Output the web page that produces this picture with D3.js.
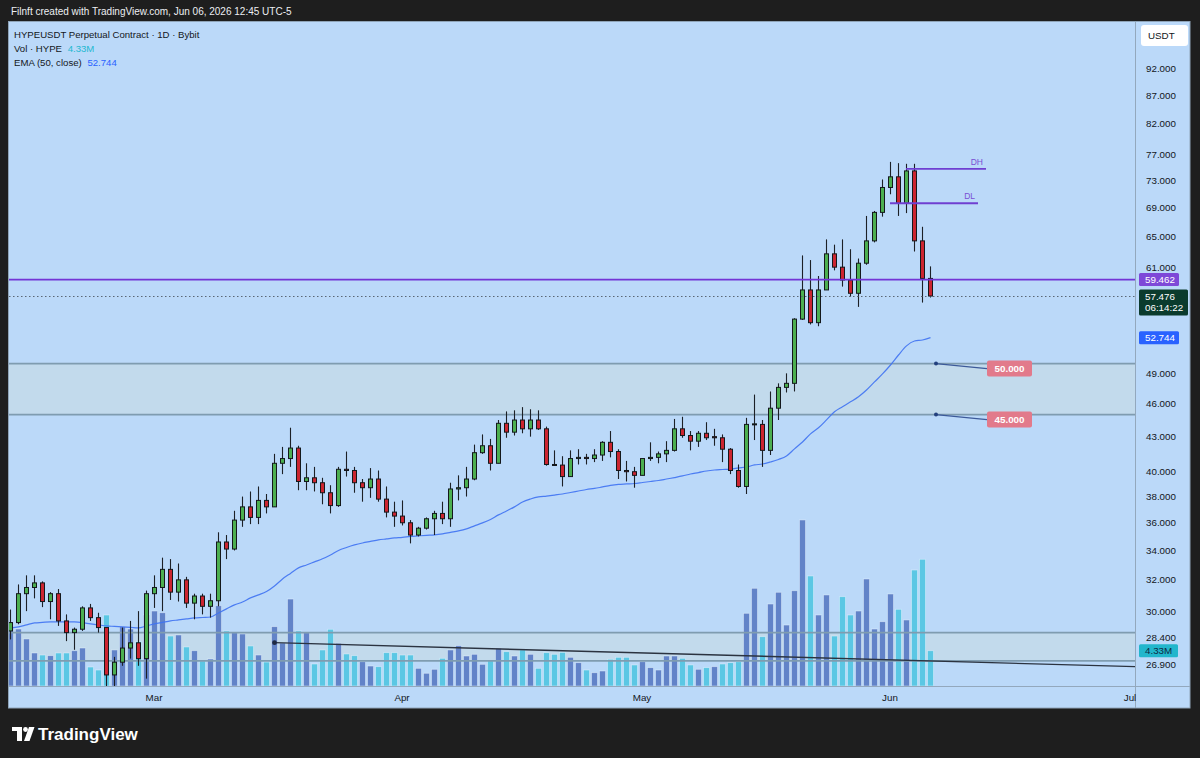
<!DOCTYPE html>
<html><head><meta charset="utf-8">
<script src="https://cdn.jsdelivr.net/npm/d3@7"></script>
<style>body{margin:0;background:#1e1e1e;} svg{display:block;font-family:"Liberation Sans",Arial,sans-serif;}</style>
</head><body><svg id="c" width="1200" height="758"></svg>
<script>
// ---------- DATA (daily candles, HYPEUSDT, from 2026-02-11) ----------
const firstDay = "2026-02-11";
const opens = [28.8,29.3,31.1,31.5,31.8,30.6,31.1,29.4,28.7,28.9,
 30.2,29.6,29.0,26.3,27.0,27.8,28.1,27.2,31.1,31.5,
 32.7,31.2,32.0,30.5,30.95,30.3,30.65,34.6,34.1,36.2,
 37.2,36.4,37.7,37.2,40.7,41.1,42.0,39.2,39.5,39.1,
 38.3,37.3,40.2,40.1,39.1,38.7,39.4,37.8,36.8,36.5,
 36.0,35.1,35.6,36.3,36.7,36.3,38.6,38.7,39.4,41.6,
 42.2,40.7,44.2,43.4,44.5,43.7,44.5,43.7,40.6,40.55,
 39.6,41.1,41.2,41.1,41.4,42.5,41.7,40.1,40.0,39.7,
 41.1,41.2,41.5,41.8,43.7,43.1,42.6,43.3,43.0,42.9,
 41.9,40.1,38.8,44.1,44.1,41.8,45.6,47.6,48.0,54.8,
 58.2,54.4,58.2,62.7,61.0,59.4,57.8,61.5,64.4,68.3,
 71.9,73.5,69.6,74.4,64.4,59.6];
const highs = [30.1,31.7,32.3,32.3,31.9,31.2,31.4,29.8,29.0,30.3,
 30.45,29.9,29.0,27.3,29.0,29.4,30.0,31.3,32.3,33.5,
 33.4,33.1,32.2,31.1,31.1,31.1,35.3,35.1,36.9,38.0,
 38.4,38.8,38.2,41.5,42.1,43.8,42.2,40.7,40.4,39.5,
 38.9,40.4,41.7,40.4,39.4,40.3,40.1,38.8,37.6,37.7,
 36.2,35.7,36.4,36.9,37.6,39.1,39.7,40.4,42.3,43.2,
 42.8,44.5,45.3,45.4,45.7,45.5,45.4,43.9,41.8,41.3,
 41.8,41.9,41.5,41.9,42.6,43.5,41.9,40.9,40.4,41.1,
 42.5,41.7,42.6,44.6,44.8,43.5,43.5,44.3,43.7,43.2,
 42.0,40.6,44.7,46.9,44.5,47.2,48.0,49.0,54.9,62.5,
 61.9,59.9,64.6,63.9,64.6,63.3,62.1,67.8,68.5,73.1,
 75.8,75.6,75.5,75.5,66.3,61.1];
const lows = [28.3,29.2,30.0,30.8,30.25,29.5,29.1,28.2,27.7,28.8,
 29.4,28.7,25.7,25.7,26.8,27.2,26.8,26.1,30.2,30.0,
 30.7,30.6,30.2,29.5,29.8,29.6,30.3,33.4,34.0,35.7,
 35.9,35.9,36.7,37.2,39.8,40.4,38.5,38.5,38.4,37.4,
 36.7,37.2,39.6,38.3,37.6,37.9,37.6,36.4,35.7,35.8,
 34.5,35.0,35.5,35.1,35.9,35.7,37.7,38.0,39.3,41.5,
 40.1,40.7,42.9,43.1,43.3,43.0,43.6,40.5,40.5,38.8,
 39.6,40.6,40.6,40.8,40.9,41.2,39.4,39.2,38.7,39.7,
 40.9,40.7,40.8,41.7,42.9,41.8,42.1,42.7,42.2,40.8,
 39.8,38.7,38.2,42.7,40.4,41.4,44.5,47.1,47.2,54.7,
 54.2,54.0,58.2,60.6,58.6,57.4,56.2,61.3,64.2,67.7,
 70.9,67.8,68.2,63.0,56.7,57.3];
const closes = [29.3,31.1,31.5,31.8,30.6,31.1,29.4,28.7,28.9,30.2,
 29.6,29.0,26.3,27.0,27.8,28.1,27.2,31.1,31.5,32.7,
 31.2,32.0,30.5,30.95,30.3,30.65,34.6,34.1,36.2,37.2,
 36.4,37.7,37.2,40.7,41.1,42.0,39.2,39.5,39.1,38.3,
 37.3,40.2,40.1,39.1,38.7,39.4,37.8,36.8,36.5,36.0,
 35.1,35.6,36.3,36.7,36.3,38.6,38.7,39.4,41.6,42.2,
 40.7,44.2,43.4,44.5,43.7,44.5,43.7,40.6,40.55,39.6,
 41.1,41.2,41.1,41.4,42.5,41.7,40.1,40.0,39.7,41.1,
 41.2,41.5,41.8,43.7,43.1,42.6,43.3,42.9,42.9,41.9,
 40.1,38.8,44.1,44.15,41.8,45.6,47.6,48.0,54.8,58.2,
 54.4,58.2,62.7,61.0,59.4,57.8,61.5,64.4,68.3,71.9,
 73.5,69.6,74.4,64.4,59.6,57.476];
const volumesM = [7.28,6.99,5.77,4.05,3.80,3.72,4.05,4.05,4.33,4.66,
 2.33,1.96,8.71,4.42,7.28,6.99,5.44,8.71,9.20,8.99,
 6.13,6.26,4.79,4.33,3.07,3.31,9.85,6.75,6.54,6.38,
 4.91,3.80,2.94,7.28,5.28,10.67,6.75,6.54,2.70,4.42,
 6.96,5.24,3.93,3.72,2.98,2.45,2.37,4.09,4.09,3.80,
 3.80,2.17,1.56,2.05,3.40,4.42,4.94,3.68,3.89,2.66,
 3.10,4.63,4.21,3.68,4.42,3.89,2.17,4.09,3.89,4.13,
 3.52,2.86,1.96,1.63,1.84,3.28,3.52,3.52,2.58,2.98,
 2.25,1.96,3.68,3.68,3.40,2.58,2.05,2.25,2.37,2.70,
 2.86,2.98,8.92,11.99,6.05,10.06,11.50,7.48,11.69,20.37,
 13.50,8.71,11.17,6.13,10.96,8.71,9.20,13.13,6.99,7.89,
 11.29,9.41,8.10,14.23,15.55,4.33];
// 1 = light (cyan) volume bar, 0 = dark blue bar
const volLight = [0,0,0,0,1,0,1,1,0,0, 1,1,1,0,0,0,1,0,0,0,
 1,0,1,0,1,0,0,1,0,0, 1,0,1,0,0,0,1,0,1,1,
 1,0,1,1,0,0,1,1,1,1, 1,0,0,0,1,0,0,0,0,0,
 1,0,1,0,1,0,1,1,1,1, 0,0,1,0,0,1,1,1,1,0,
 0,0,0,0,1,1,0,1,0,1, 1,1,0,0,1,0,0,0,0,0,
 1,0,0,1,1,1,0,0,0,0, 0,1,0,1,1,1];
const ema50 = [28.98,29.04,29.16,29.28,29.31,29.34,29.34,29.34,29.34,29.30,
 29.22,29.16,29.10,29.07,29.04,29.01,28.98,29.10,29.22,29.31,
 29.40,29.46,29.52,29.58,29.61,29.64,29.89,30.14,30.39,30.57,
 30.83,31.02,31.24,31.60,32.06,32.43,32.80,33.00,33.21,33.42,
 33.69,34.00,34.21,34.39,34.53,34.64,34.75,34.82,34.89,34.93,
 35.00,35.04,35.08,35.11,35.18,35.29,35.40,35.55,35.77,35.99,
 36.25,36.59,36.89,37.20,37.58,37.81,37.97,38.04,38.12,38.20,
 38.32,38.44,38.56,38.64,38.76,38.88,38.96,39.00,39.04,39.12,
 39.20,39.28,39.40,39.52,39.65,39.81,39.93,40.06,40.14,40.18,
 40.22,40.31,40.39,40.56,40.64,40.81,41.02,41.32,41.93,42.53,
 43.25,43.79,44.51,45.26,45.73,46.20,46.69,47.34,48.14,48.94,
 49.85,50.89,51.86,52.38,52.49,52.744];

const priceTicks = [92,87,82,77,73,69,65,61,49,46,43,40,38,36,34,32,30,28.4,26.9];
const monthLabels = ["Mar","Apr","May","Jun","Jul"];
const monthDates = ["2026-03-01","2026-04-01","2026-05-01","2026-06-01","2026-07-01"];

const levelLine = 59.462;          // purple horizontal line
const lastPrice = 57.476, countdown = "06:14:22";
const emaLast = 52.744, volLast = 4.33;
const zoneUpper = [50, 45];         // rectangle zone (price top, bottom)
const zoneLower = [28.70, 27.07];
const trendAnchors = [{d:"2026-03-16",p:28.11},{d:"2026-06-06",p:27.07}];
const dhLevel = {label:"DH", p:74.7, from:"2026-06-03", to:"2026-06-13"};
const dlLevel = {label:"DL", p:69.6, from:"2026-06-01", to:"2026-06-12"};
const calloutPrices = [50, 45];
const calloutLabels = ["50.000","45.000"];
const calloutDate = "2026-06-06T18:00:00Z";

// ---------- LAYOUT ----------
const W = 1200, H = 758;
const P = {l:9, r:1135, t:22, b:686, right:1190, bottom:708};
const parse = s => new Date(s.length === 10 ? s + "T00:00:00Z" : s);
const day0 = parse(firstDay);
const dates = closes.map((_, i) => d3.utcDay.offset(day0, i));

const x = d3.scaleUtc().domain([day0, parse("2026-07-01")]).range([10, 1130]);
const y = d3.scaleLog().domain([26.9, 92]).range([664, 68]);
const yv = d3.scaleLinear().domain([0, 25]).range([P.b, P.b - 25 * 8.15]);

const svg = d3.select("#c");
svg.append("rect").attr("width", W).attr("height", H).attr("fill", "#1e1e1e");
svg.append("text").attr("x", 11).attr("y", 15).attr("fill", "#eceef2")
  .attr("font-size", 10)
  .text("Filnft created with TradingView.com, Jun 06, 2026 12:45 UTC-5");

svg.append("rect").attr("x", 8.5).attr("y", 21.5).attr("width", P.right - 8.5).attr("height", P.bottom - 21.5)
  .attr("fill", "#bbd9f9").attr("stroke", "#8fa4b8");

svg.append("defs").append("clipPath").attr("id", "clip").append("rect")
  .attr("x", P.l).attr("y", P.t).attr("width", P.r - P.l).attr("height", P.b - P.t);
const g = svg.append("g").attr("clip-path", "url(#clip)");

// zones fill
function zone(z) {
  g.append("rect").attr("x", P.l).attr("width", P.r - P.l)
   .attr("y", y(z[0])).attr("height", y(z[1]) - y(z[0]))
   .attr("fill", "#c3d9ea").attr("opacity", 0.85);
}
zone(zoneUpper); zone(zoneLower);

// volume
const idx = d3.range(closes.length);
g.selectAll("rect.vol").data(idx).join("rect").attr("class", "vol")
  .attr("x", i => x(dates[i]) - 2.5).attr("width", 6)
  .attr("y", i => yv(volumesM[i])).attr("height", i => P.b - yv(volumesM[i]))
  .attr("fill", i => volLight[i] ? "#5bc7e4" : "#6283c8")
  .attr("stroke", "rgba(235,245,255,0.55)").attr("stroke-width", 0.8);

// zone borders
function zoneBorder(z) {
  z.forEach(p => g.append("line").attr("x1", P.l).attr("x2", P.r)
    .attr("y1", y(p)).attr("y2", y(p)).attr("stroke", "#7f9cb0").attr("stroke-width", 1.8));
}
zoneBorder(zoneUpper); zoneBorder(zoneLower);

// trend line (extended right)
const ta = trendAnchors.map(a => [x(parse(a.d)) + 0.5, y(a.p)]);
const slope = (ta[1][1] - ta[0][1]) / (ta[1][0] - ta[0][0]);
g.append("line").attr("x1", ta[0][0]).attr("y1", ta[0][1])
  .attr("x2", P.r).attr("y2", ta[0][1] + slope * (P.r - ta[0][0]))
  .attr("stroke", "#2b3340").attr("stroke-width", 1.4);
g.append("circle").attr("cx", ta[0][0]).attr("cy", ta[0][1]).attr("r", 2.4).attr("fill", "#1f2a44");

// EMA
g.append("path").datum(idx)
  .attr("d", d3.line().x(i => x(dates[i]) + 0.5).y(i => y(ema50[i])).curve(d3.curveMonotoneX))
  .attr("fill", "none").attr("stroke", "#3f72f2").attr("stroke-width", 1.2).attr("opacity", 0.9);

// candles
g.selectAll("line.wick").data(idx).join("line")
  .attr("x1", i => x(dates[i]) + 0.5).attr("x2", i => x(dates[i]) + 0.5)
  .attr("y1", i => y(highs[i])).attr("y2", i => y(lows[i]))
  .attr("stroke", "#1c2026").attr("stroke-width", 1.1);
g.selectAll("rect.body").data(idx).join("rect")
  .attr("x", i => x(dates[i]) - 1.5).attr("width", 4)
  .attr("y", i => y(Math.max(opens[i], closes[i])))
  .attr("height", i => Math.max(1, Math.abs(y(opens[i]) - y(closes[i]))))
  .attr("fill", i => closes[i] >= opens[i] ? "#4caf50" : "#cc2530")
  .attr("stroke", "#14181c").attr("stroke-width", 1);

// purple level + current price dotted
g.append("line").attr("x1", P.l).attr("x2", P.r).attr("y1", y(levelLine)).attr("y2", y(levelLine))
  .attr("stroke", "#7335d6").attr("stroke-width", 1.8);
g.append("line").attr("x1", P.l).attr("x2", P.r).attr("y1", Math.round(y(lastPrice)) + 0.5).attr("y2", Math.round(y(lastPrice)) + 0.5)
  .attr("stroke", "#5b6774").attr("stroke-width", 1).attr("stroke-dasharray", "1.5,2.5");

// DH / DL
[dhLevel, dlLevel].forEach(L => {
  const x1 = x(parse(L.from)), x2 = x(parse(L.to)), yy = y(L.p);
  g.append("line").attr("x1", x1).attr("x2", x2).attr("y1", yy).attr("y2", yy)
    .attr("stroke", "#6f3fd1").attr("stroke-width", 1.8);
  g.append("text").attr("x", x2 - 3).attr("y", yy - 4).attr("text-anchor", "end")
    .attr("font-size", 8.5).attr("fill", "#7a4fd4").text(L.label);
});

// callouts
calloutPrices.forEach((p, k) => {
  const ax = x(parse(calloutDate)), ay = y(p);
  const bx = ax + 51, by = ay + 5;
  g.append("line").attr("x1", ax).attr("y1", ay).attr("x2", bx).attr("y2", by)
    .attr("stroke", "#3c5a9a").attr("stroke-width", 1.2);
  g.append("circle").attr("cx", ax).attr("cy", ay).attr("r", 2).attr("fill", "#23407e");
  g.append("rect").attr("x", bx).attr("y", by - 8).attr("width", 45).attr("height", 16).attr("rx", 2)
    .attr("fill", "#e27a8b");
  g.append("text").attr("x", bx + 22.5).attr("y", by + 3.5).attr("text-anchor", "middle")
    .attr("font-size", 9.8).attr("font-weight", "bold").attr("fill", "#ffffff").text(calloutLabels[k]);
});

// legend
const leg = svg.append("g").attr("font-size", 9.6).attr("fill", "#131722");
leg.append("text").attr("x", 14).attr("y", 38).text("HYPEUSDT Perpetual Contract · 1D · Bybit");
const l2 = leg.append("text").attr("x", 14).attr("y", 52);
l2.append("tspan").text("Vol · HYPE ");
l2.append("tspan").attr("fill", "#1fb8d0").attr("dx", 3).text(d3.format(".2f")(volLast) + "M");
const l3 = leg.append("text").attr("x", 14).attr("y", 66);
l3.append("tspan").text("EMA (50, close) ");
l3.append("tspan").attr("fill", "#2962ff").attr("dx", 3).text(d3.format(".3f")(emaLast));

// axes separators
svg.append("line").attr("x1", P.r + 0.5).attr("x2", P.r + 0.5).attr("y1", P.t).attr("y2", P.bottom)
  .attr("stroke", "#93a8bd");
svg.append("line").attr("x1", P.l).attr("x2", P.right).attr("y1", P.b + 0.5).attr("y2", P.b + 0.5)
  .attr("stroke", "#93a8bd");

// price axis
const ax = svg.append("g").attr("font-size", 9.8).attr("fill", "#131722");
ax.selectAll("text.t").data(priceTicks).join("text")
  .attr("x", 1146).attr("y", d => y(d) + 3.5).text(d => d3.format(".3f")(d));
svg.append("rect").attr("x", 1141).attr("y", 25).attr("width", 47).attr("height", 21).attr("rx", 3)
  .attr("fill", "#ffffff");
svg.append("text").attr("x", 1148).attr("y", 39).attr("font-size", 9.8).attr("fill", "#131722").text("USDT");

function tag(yc, txt, fill, tf, w) {
  svg.append("rect").attr("x", 1139).attr("y", yc - 6.5).attr("width", w).attr("height", 13).attr("rx", 1.5).attr("fill", fill);
  svg.append("text").attr("x", 1145).attr("y", yc + 3.5).attr("font-size", 9.8).attr("fill", tf).text(txt);
}
tag(y(levelLine), d3.format(".3f")(levelLine), "#7e48d8", "#ffffff", 40);
{
  const yc = y(lastPrice);
  svg.append("rect").attr("x", 1139).attr("y", yc - 6.5).attr("width", 49).attr("height", 26).attr("rx", 1.5).attr("fill", "#0b3b2d");
  svg.append("text").attr("x", 1145).attr("y", yc + 3.5).attr("font-size", 9.8).attr("fill", "#fff").text(d3.format(".3f")(lastPrice));
  svg.append("text").attr("x", 1145).attr("y", yc + 15).attr("font-size", 9.8).attr("fill", "#fff").text(countdown);
}
tag(y(emaLast), d3.format(".3f")(emaLast), "#2962ff", "#ffffff", 40);
tag(yv(volLast), d3.format(".2f")(volLast) + "M", "#22b6cc", "#0f2a44", 39);

// time axis
svg.selectAll("text.m").data(monthLabels).join("text")
  .attr("x", (d, i) => x(parse(monthDates[i]))).attr("y", 701).attr("text-anchor", "middle")
  .attr("font-size", 9.8).attr("fill", "#131722").text(d => d);

// TradingView logo
const lg = svg.append("g").attr("fill", "#ffffff");
lg.append("path").attr("d", "M12,727 H22 V741 H17 V731 H12 Z");
lg.append("circle").attr("cx", 25.5).attr("cy", 729.5).attr("r", 2.4);
lg.append("path").attr("d", "M29,727 H34.5 L29.5,741 H24 Z");
lg.append("text").attr("x", 38).attr("y", 740).attr("font-size", 17).attr("font-weight", "bold").text("TradingView");
</script></body></html>
